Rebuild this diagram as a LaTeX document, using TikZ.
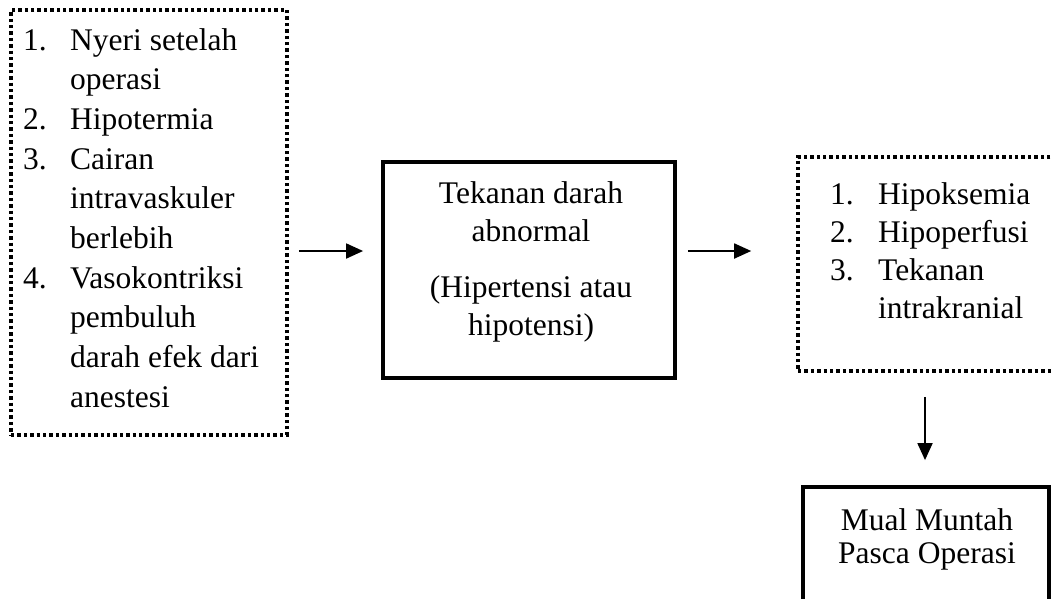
\documentclass[tikz,border=0pt]{standalone}
\usepackage{fontspec}
\setmainfont{Liberation Serif}
\usetikzlibrary{arrows.meta}
\begin{document}
\begin{tikzpicture}[x=1pt,y=-1pt,
  dotbox/.style={draw, line width=3.6pt, dash pattern=on 3.4pt off 3pt, inner sep=0pt},
  solidbox/.style={draw, line width=3.8pt, inner sep=0pt},
  txt/.style={inner sep=0pt, font=\fontsize{31.5}{#1}\selectfont},
  arr/.style={line width=1.8pt, -{Triangle[length=17pt,width=15pt]}}]
\clip (0,0) rectangle (1051,598);
% boxes
\node[dotbox, minimum width=276pt, minimum height=425pt] (lbox) at (149,222.5) {};
\node[solidbox, minimum width=292pt, minimum height=216pt] (mbox) at (529,270) {};
\node[dotbox, minimum width=272pt, minimum height=214pt] (rbox) at (934,264) {};
\node[solidbox, minimum width=246pt, minimum height=153pt] (bbox) at (926,563.5) {};
% texts
\node[txt=39.7, anchor=base west] (ltxt) at (23,50) {\begin{tabular}[t]{@{}p{47pt}@{}l@{}}
1.&Nyeri setelah\\
  &operasi\\
2.&Hipotermia\\
3.&Cairan\\
  &intravaskuler\\
  &berlebih\\
4.&Vasokontriksi\\
  &pembuluh\\
  &darah efek dari\\
  &anestesi
\end{tabular}};
\node[txt=38, anchor=base] (mtxt) at (531,203) {\begin{tabular}[t]{@{}c@{}}
Tekanan darah\\
abnormal\\[18pt]
(Hipertensi atau\\
hipotensi)
\end{tabular}};
\node[txt=38, anchor=base west] (rtxt) at (830,204) {\begin{tabular}[t]{@{}p{48pt}@{}l@{}}
1.&Hipoksemia\\
2.&Hipoperfusi\\
3.&Tekanan\\
  &intrakranial
\end{tabular}};
\node[txt=33, anchor=base] (btxt) at (927,530) {\begin{tabular}[t]{@{}c@{}}
Mual Muntah\\
Pasca Operasi
\end{tabular}};
% arrows
\coordinate (ay) at (0,251);
\coordinate (ax) at (925,0);
\draw[arr, shorten <=10pt, shorten >=18pt] (lbox.east |- ay) -- (mbox.west |- ay);
\draw[arr, shorten <=11pt, shorten >=45pt] (mbox.east |- ay) -- (rbox.west |- ay);
\draw[arr, shorten <=24pt, shorten >=25pt] (ax |- rbox.south) -- (ax |- bbox.north);
\end{tikzpicture}
\end{document}
